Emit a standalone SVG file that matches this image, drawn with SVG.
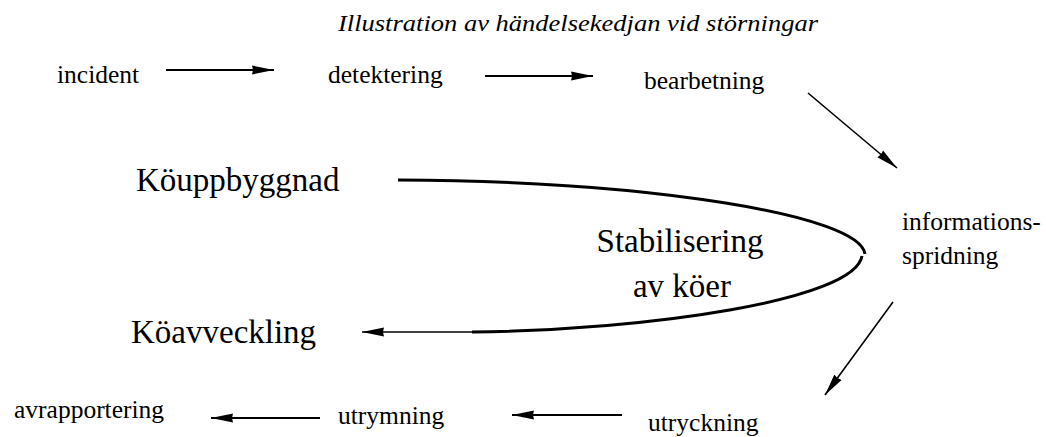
<svg xmlns="http://www.w3.org/2000/svg" width="1046" height="437" viewBox="0 0 1046 437">
<style>
text{font-family:"Liberation Serif","Times New Roman",serif;fill:#000}
.s{font-size:25.5px}
.b{font-size:33px}
.t{font-size:24px;font-style:italic}
.a{stroke:#000;stroke-width:2;fill:none;marker-end:url(#ah)}
.d{stroke:#000;stroke-width:1.6;fill:none;marker-end:url(#ah)}
.c{stroke:#000;stroke-width:3;fill:none}
</style>
<defs>
<marker id="ah" markerUnits="userSpaceOnUse" markerWidth="22" markerHeight="10" viewBox="0 0 22 10" refX="22" refY="5" orient="auto">
<path d="M0,0.5 L22,5 L0,9.5 L1,5 z" fill="#000"/>
</marker>
</defs>
<rect width="1046" height="437" fill="#fff"/>
<text id="title" class="t" x="338" y="31" textLength="480" lengthAdjust="spacingAndGlyphs">Illustration av händelsekedjan vid störningar</text>
<g id="incident"><text class="s" x="57" y="83">incident</text></g>
<g id="detektering"><text class="s" x="328" y="83">detektering</text></g>
<g id="bearbetning"><text class="s" x="644" y="89">bearbetning</text></g>
<g id="informationsspridning"><text class="s" x="902" y="230">informations-</text><text class="s" x="902" y="264">spridning</text></g>
<g id="utryckning"><text class="s" x="648" y="431">utryckning</text></g>
<g id="utrymning"><text class="s" x="338" y="424">utrymning</text></g>
<g id="avrapportering"><text class="s" x="14" y="418">avrapportering</text></g>
<g id="kouppbyggnad"><text class="b" x="136" y="191">Köuppbyggnad</text></g>
<g id="koavveckling"><text class="b" x="131" y="343">Köavveckling</text></g>
<g id="stabilisering"><text class="b" x="680" y="252" text-anchor="middle">Stabilisering</text><text class="b" x="682" y="297" text-anchor="middle">av köer</text></g>
<g id="connectors">
<line class="a" x1="166" y1="70" x2="274" y2="70"/>
<line class="a" x1="485" y1="76" x2="593" y2="76"/>
<line class="d" x1="808" y1="93" x2="897" y2="168"/>
<line class="d" x1="893" y1="302" x2="825" y2="395"/>
<line class="a" x1="622" y1="415" x2="512" y2="415"/>
<line class="a" x1="320" y1="418" x2="211" y2="418"/>
<line class="d" x1="474" y1="332" x2="362" y2="332"/>
<path class="c" d="M398,180 C650,181 860,215 865,254"/>
<path class="c" d="M862,256 C855,300 650,330 472,332"/>
</g>
</svg>
